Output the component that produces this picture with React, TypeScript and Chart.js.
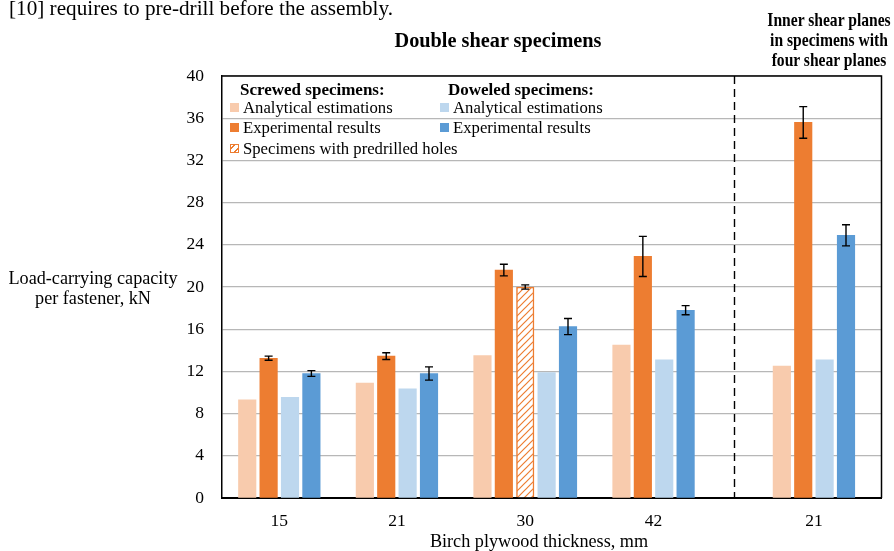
import React, { useEffect, useRef } from "react";
import { Chart, registerables } from "chart.js";

Chart.register(...registerables);

// ---------- data ----------
const categories = ["15", "21", "30", "42", "21"];
const yTicks = [0, 4, 8, 12, 16, 20, 24, 28, 32, 36, 40];

const screwedAnalytical = [9.3, 10.9, 13.5, 14.5, 12.5];
const screwedExperimental = [13.25, 13.45, 21.6, 22.9, 35.6];
const screwedExperimentalErr = [0.2, 0.32, 0.55, 1.9, 1.5];
const screwedPredrilled = [null, null, 20.0, null, null];
const screwedPredrilledErr = [null, null, 0.2, null, null];
const doweledAnalytical = [9.55, 10.35, 11.9, 13.1, 13.1];
const doweledExperimental = [11.8, 11.8, 16.25, 17.8, 24.9];
const doweledExperimentalErr = [0.27, 0.63, 0.76, 0.43, 1.0];

// ---------- layout / style ----------
const GROUP_GAPS = [1.5, 1.5, 1.5, 3.5]; // empty bar slots after each group
const SEPARATOR_AFTER_GROUP = 3;
const AXIS_PAD_LEFT = 1.18;
const AXIS_PAD_RIGHT = 1.66;

const C_LIGHT_ORANGE = "#F8CBAD";
const C_ORANGE = "#ED7D31";
const C_LIGHT_BLUE = "#BDD7EE";
const C_BLUE = "#5B9BD5";
const SERIF = "'Liberation Serif', 'Times New Roman', serif";

type Series = { key: string; values: (number | null)[]; errors: (number | null)[] | null; color: string; hatch?: boolean };

const SERIES: Series[] = [
  { key: "sa", values: screwedAnalytical, errors: null, color: C_LIGHT_ORANGE },
  { key: "se", values: screwedExperimental, errors: screwedExperimentalErr, color: C_ORANGE },
  { key: "sp", values: screwedPredrilled, errors: screwedPredrilledErr, color: C_ORANGE, hatch: true },
  { key: "da", values: doweledAnalytical, errors: null, color: C_LIGHT_BLUE },
  { key: "de", values: doweledExperimental, errors: doweledExperimentalErr, color: C_BLUE },
];

function computeLayout() {
  const positions: (number | null)[][] = SERIES.map(() => categories.map(() => null));
  const centers: number[] = [];
  const firsts: number[] = [];
  const lasts: number[] = [];
  let cursor = 0;
  categories.forEach((_, g) => {
    const present = SERIES.map((s, i) => (s.values[g] != null ? i : -1)).filter((i) => i >= 0);
    present.forEach((si, k) => {
      positions[si][g] = cursor + k;
    });
    firsts.push(cursor);
    lasts.push(cursor + present.length - 1);
    centers.push(cursor + (present.length - 1) / 2);
    cursor += present.length + (GROUP_GAPS[g] ?? 0);
  });
  const separator = (lasts[SEPARATOR_AFTER_GROUP] + firsts[SEPARATOR_AFTER_GROUP + 1]) / 2;
  return { positions, centers, separator, min: firsts[0] - AXIS_PAD_LEFT, max: lasts[lasts.length - 1] + AXIS_PAD_RIGHT };
}

function makeHatch(color: string) {
  const c = document.createElement("canvas");
  c.width = 7;
  c.height = 7;
  const g = c.getContext("2d")!;
  g.fillStyle = "#fff";
  g.fillRect(0, 0, 7, 7);
  g.strokeStyle = color;
  g.lineWidth = 1.2;
  g.beginPath();
  g.moveTo(-1, 8);
  g.lineTo(8, -1);
  g.moveTo(-1, 1);
  g.lineTo(1, -1);
  g.moveTo(6, 8);
  g.lineTo(8, 6);
  g.stroke();
  return g.createPattern(c, "repeat")!;
}

export default function App() {
  const ref = useRef<HTMLCanvasElement>(null);

  useEffect(() => {
    const canvas = ref.current!;
    const L = computeLayout();
    const hatch = makeHatch(C_ORANGE);

    const datasets = SERIES.map((s, si) => ({
      label: s.key,
      data: s.values
        .map((v, g) => (v == null ? null : { x: L.positions[si][g] as number, y: v, err: s.errors ? s.errors[g] : null }))
        .filter((d) => d != null),
      backgroundColor: s.hatch ? hatch : s.color,
      borderColor: s.color,
      borderWidth: s.hatch ? 1.5 : 0,
      grouped: false,
      barThickness: 17.5,
    }));

    const overlay = {
      id: "overlay",
      afterDatasetsDraw(chart: any) {
        const ctx = chart.ctx;
        const y = chart.scales.y;
        const x = chart.scales.x;
        const area = chart.chartArea;
        ctx.save();
        // error bars
        ctx.strokeStyle = "#000";
        ctx.lineWidth = 1.4;
        chart.data.datasets.forEach((ds: any, i: number) => {
          const meta = chart.getDatasetMeta(i);
          ds.data.forEach((d: any, j: number) => {
            if (d.err == null) return;
            const el = meta.data[j];
            const px = el.x;
            const top = y.getPixelForValue(d.y + d.err);
            const bot = y.getPixelForValue(d.y - d.err);
            ctx.beginPath();
            ctx.moveTo(px, top);
            ctx.lineTo(px, bot);
            ctx.moveTo(px - 4, top);
            ctx.lineTo(px + 4, top);
            ctx.moveTo(px - 4, bot);
            ctx.lineTo(px + 4, bot);
            ctx.stroke();
          });
        });
        // separator
        const sx = Math.round(x.getPixelForValue(L.separator)) + 0.5;
        ctx.setLineDash([8, 5]);
        ctx.lineWidth = 1.4;
        ctx.beginPath();
        ctx.moveTo(sx, area.top);
        ctx.lineTo(sx, area.bottom);
        ctx.stroke();
        ctx.setLineDash([]);
        // frame top & right
        ctx.lineWidth = 1.5;
        ctx.beginPath();
        ctx.moveTo(area.left, area.top);
        ctx.lineTo(area.right, area.top);
        ctx.lineTo(area.right, area.bottom);
        ctx.stroke();
        ctx.restore();
      },
    };

    const tickFont = { family: SERIF, size: 17.5 };

    const chart = new Chart(canvas, {
      type: "bar",
      data: { datasets: datasets as any },
      options: {
        animation: false,
        responsive: false,
        devicePixelRatio: 1,
        layout: { padding: { top: 76, right: 12.5, left: 0, bottom: 0 } },
        plugins: { legend: { display: false }, tooltip: { enabled: false }, title: { display: false } },
        scales: {
          x: {
            type: "linear",
            min: L.min,
            max: L.max,
            offset: false,
            grid: { display: false, drawTicks: false, offset: false },
            border: { display: true, color: "#000", width: 2 },
            afterFit: (s: any) => {
              s.height = 53;
            },
            afterBuildTicks: (s: any) => {
              s.ticks = L.centers.map((v) => ({ value: v }));
            },
            ticks: {
              autoSkip: false,
              maxRotation: 0,
              minRotation: 0,
              padding: 13,
              color: "#000",
              font: tickFont,
              callback: (_v: any, i: number) => categories[i],
            },
          },
          y: {
            min: 0,
            max: 40,
            afterFit: (s: any) => {
              s.width = 222;
            },
            afterBuildTicks: (s: any) => {
              s.ticks = yTicks.map((v) => ({ value: v }));
            },
            grid: { color: "#b7b7b7", lineWidth: 1.3, drawTicks: false },
            border: { display: true, color: "#000", width: 1.5 },
            ticks: { padding: 18, color: "#000", font: tickFont },
          },
        },
      } as any,
      plugins: [overlay],
    });
    return () => chart.destroy();
  }, []);

  const abs = (s: React.CSSProperties): React.CSSProperties => ({ position: "absolute", whiteSpace: "nowrap", fontFamily: SERIF, color: "#000", ...s });
  const sw = (bg: string, extra: React.CSSProperties = {}): React.CSSProperties => ({
    display: "inline-block",
    width: 9,
    height: 9,
    background: bg,
    marginRight: 4,
    verticalAlign: "middle",
    position: "relative",
    top: -2,
    boxSizing: "border-box",
    ...extra,
  });
  const legendRow = { fontSize: 16.7, lineHeight: "20px" };

  return (
    <div style={{ position: "absolute", left: 0, top: 0, width: 894, height: 551, overflow: "hidden", background: "#fff" }}>
      <canvas ref={ref} width={894} height={551} style={{ position: "absolute", left: 0, top: 0, width: 894, height: 551 }} />
      <div style={abs({ left: 9, top: -4, fontSize: 21.2, lineHeight: "24px" })}>[10] requires to pre-drill before the assembly.</div>
      <div style={abs({ left: 498, top: 29, transform: "translateX(-50%)", fontSize: 20.3, lineHeight: "22px", fontWeight: "bold" })}>Double shear specimens</div>
      <div
        style={abs({
          left: 829,
          top: 10,
          transform: "translateX(-50%) scaleX(0.8)",
          fontSize: 19.5,
          lineHeight: "20px",
          fontWeight: "bold",
          textAlign: "center",
        })}
      >
        Inner shear planes
        <br />
        in specimens with
        <br />
        four shear planes
      </div>
      <div style={abs({ left: 93, top: 268, transform: "translateX(-50%)", fontSize: 18.2, lineHeight: "20px", textAlign: "center" })}>
        Load-carrying capacity
        <br />
        per fastener, kN
      </div>
      <div style={abs({ left: 539, top: 531, transform: "translateX(-50%)", fontSize: 18.2, lineHeight: "20px" })}>Birch plywood thickness, mm</div>

      <div style={abs({ left: 240, top: 80, fontSize: 17, lineHeight: "20px", fontWeight: "bold" })}>Screwed specimens:</div>
      <div style={abs({ left: 448, top: 80, fontSize: 17, lineHeight: "20px", fontWeight: "bold" })}>Doweled specimens:</div>
      <div style={abs({ left: 230, top: 98, ...legendRow })}>
        <span style={sw(C_LIGHT_ORANGE)} />
        Analytical estimations
      </div>
      <div style={abs({ left: 440, top: 98, ...legendRow })}>
        <span style={sw(C_LIGHT_BLUE)} />
        Analytical estimations
      </div>
      <div style={abs({ left: 230, top: 118, ...legendRow })}>
        <span style={sw(C_ORANGE)} />
        Experimental results
      </div>
      <div style={abs({ left: 440, top: 118, ...legendRow })}>
        <span style={sw(C_BLUE)} />
        Experimental results
      </div>
      <div style={abs({ left: 230, top: 139, ...legendRow })}>
        <span
          style={sw(`repeating-linear-gradient(135deg, #fff 0px, #fff 2px, ${C_ORANGE} 2px, ${C_ORANGE} 3.3px, #fff 3.3px, #fff 4.6px)`, {
            border: `1.3px solid ${C_ORANGE}`,
          })}
        />
        Specimens with predrilled holes
      </div>
    </div>
  );
}
